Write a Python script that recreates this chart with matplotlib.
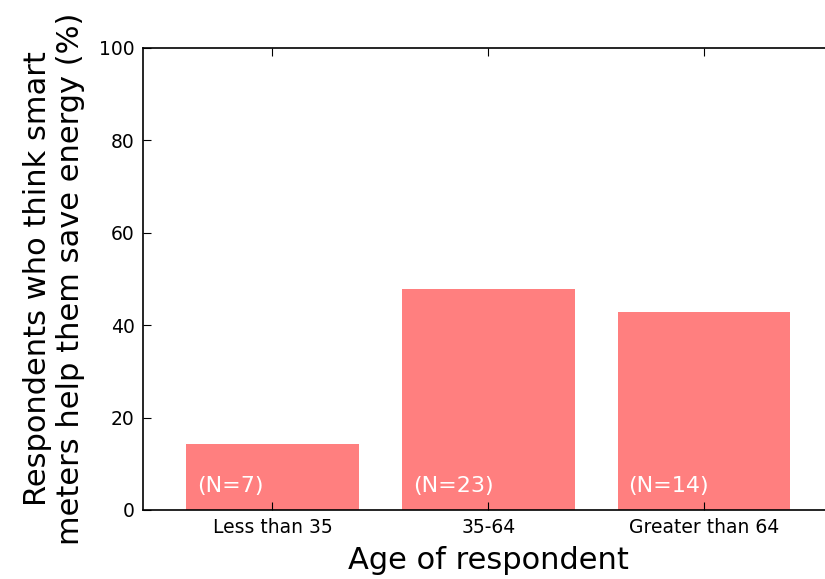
import numpy as np
import matplotlib
matplotlib.use("Agg")
import matplotlib.pyplot as plt

# share of respondents per age group who think smart meters help save energy
age_groups = ["Less than 35", "35-64", "Greater than 64"]
pct_yes = [100 * 1 / 7, 100 * 11 / 23, 100 * 6 / 14]
n_resp = [7, 23, 14]

fig = plt.figure(figsize=(8.25, 5.79), dpi=100)
ax = fig.add_axes([0.1733, 0.1192, 0.837, 0.798])

x = np.arange(len(age_groups))
ax.bar(x, pct_yes, width=0.8, color="red", alpha=0.5, linewidth=0)

for i, n in enumerate(n_resp):
    ax.text(i - 0.35, 3.8, "(N=%d)" % n, color="white", fontsize=16, va="baseline")

ax.set_xlim(-0.6, 2.6)
ax.set_ylim(0, 100)
ax.set_xticks(x)
ax.set_xticklabels(age_groups)
ax.set_yticks(range(0, 101, 20))
ax.tick_params(labelsize=13.5, pad=6)
ax.tick_params(direction="in", length=6, top=True, right=True)
for s in ax.spines.values():
    s.set_linewidth(1.2)

ax.set_xlabel("Age of respondent", fontsize=22, labelpad=6)
ax.set_ylabel("Respondents who think smart\nmeters help them save energy (%)", fontsize=22, labelpad=10)

fig.savefig("out.png", dpi=100)
